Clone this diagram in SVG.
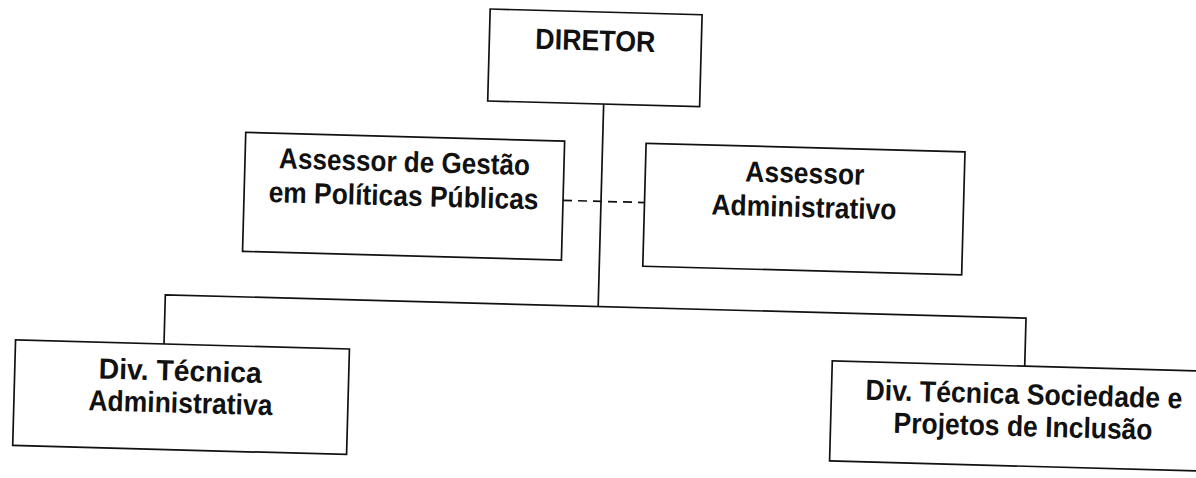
<svg xmlns="http://www.w3.org/2000/svg" width="1196" height="478" viewBox="0 0 1196 478">
<style>
.box{fill:#fff;stroke:#111;stroke-width:1.7}
.ln{fill:none;stroke:#111;stroke-width:1.7}
.dash{fill:none;stroke:#111;stroke-width:1.7;stroke-dasharray:9 6}
.t{font-family:"Liberation Sans",Arial,sans-serif;font-weight:bold;font-size:29px;fill:#111;text-anchor:middle}
</style>
<rect width="1196" height="478" fill="#fff"/>
<g transform="rotate(1.55 598 239)">
<g id="connectors">
<line class="ln" x1="600" y1="104" x2="600" y2="306.5"/>
<polyline class="ln" points="167,355.7 167,306.5 1028,306.5 1028,354.6"/>
<line class="dash" x1="562" y1="201.3" x2="643.5" y2="201.3"/>
</g>
<g id="diretor">
<rect class="box" x="484" y="12" width="212" height="92"/>
<text class="t" x="590" y="50.5" textLength="120" lengthAdjust="spacingAndGlyphs">DIRETOR</text>
</g>
<g id="assessor-gestao">
<rect class="box" x="243" y="142" width="319" height="119"/>
<text class="t" x="402.5" y="177" textLength="251" lengthAdjust="spacingAndGlyphs">Assessor de Gestão</text>
<text class="t" x="402.5" y="211" textLength="270" lengthAdjust="spacingAndGlyphs">em Políticas Públicas</text>
</g>
<g id="assessor-admin">
<rect class="box" x="643.5" y="142" width="319" height="123"/>
<text class="t" x="803" y="177.5" textLength="119" lengthAdjust="spacingAndGlyphs">Assessor</text>
<text class="t" x="803" y="211.5" textLength="185" lengthAdjust="spacingAndGlyphs">Administrativo</text>
</g>
<g id="div-admin">
<rect class="box" x="18.5" y="355.7" width="334" height="105.5"/>
<text class="t" x="184" y="392" textLength="163" lengthAdjust="spacingAndGlyphs">Div. Técnica</text>
<text class="t" x="185" y="424" textLength="184" lengthAdjust="spacingAndGlyphs">Administrativa</text>
</g>
<g id="div-sociedade">
<rect class="box" x="835.5" y="354.6" width="385" height="100"/>
<text class="t" x="1028" y="392.5" textLength="317" lengthAdjust="spacingAndGlyphs">Div. Técnica Sociedade e</text>
<text class="t" x="1028" y="424.6" textLength="259" lengthAdjust="spacingAndGlyphs">Projetos de Inclusão</text>
</g>
</g>
</svg>
